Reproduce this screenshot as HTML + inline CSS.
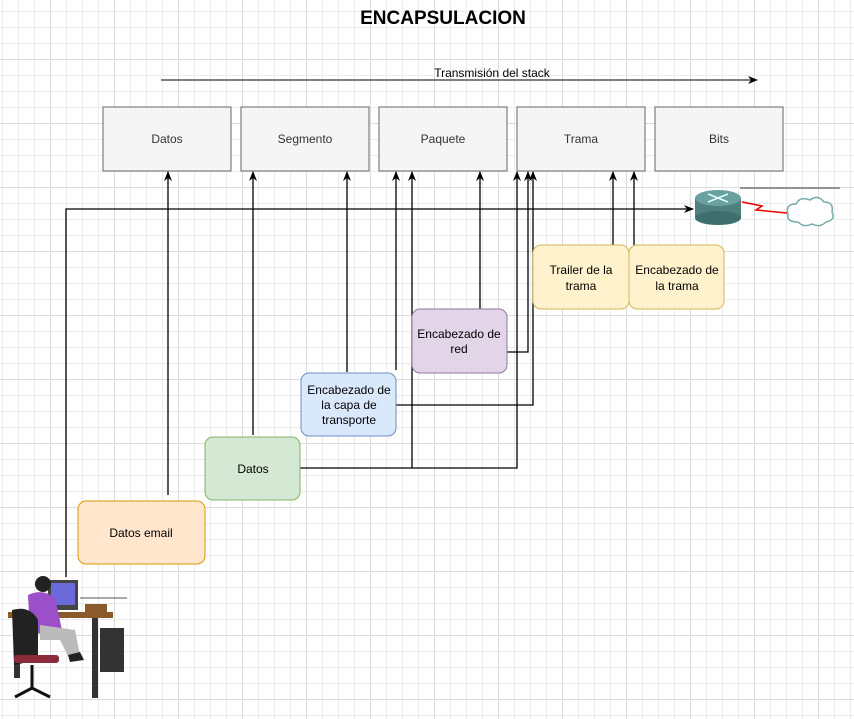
<!DOCTYPE html>
<html><head><meta charset="utf-8"><style>
body{margin:0;width:854px;height:719px;overflow:hidden;background:#fff;
background-image:linear-gradient(#dcdcdc 1px,transparent 1px),linear-gradient(90deg,#dcdcdc 1px,transparent 1px),linear-gradient(#ececec 1px,transparent 1px),linear-gradient(90deg,#ececec 1px,transparent 1px);
background-size:64px 64px,64px 64px,16px 16px,16px 16px;background-position:-14px -5px;font-family:"Liberation Sans",sans-serif;}
</style></head><body>
<svg width="854" height="719" style="position:absolute;left:0;top:0" font-family="Liberation Sans, sans-serif">
<defs><marker id="a" markerWidth="10" markerHeight="10" refX="9" refY="5" orient="auto" markerUnits="userSpaceOnUse"><path d="M0,1 L10,5 L0,9 L3,5z" fill="#000"/></marker></defs>
<text x="443" y="24" text-anchor="middle" font-weight="bold" font-size="19">ENCAPSULACION</text>
<text x="492" y="77" text-anchor="middle" font-size="12">Transmisión del stack</text>
<line x1="161" y1="80" x2="757" y2="80" stroke="#000" marker-end="url(#a)"/>
<g fill="#f5f5f5" stroke="#666">
<rect x="103" y="107" width="128" height="64"/><rect x="241" y="107" width="128" height="64"/><rect x="379" y="107" width="128" height="64"/><rect x="517" y="107" width="128" height="64"/><rect x="655" y="107" width="128" height="64"/></g>
<g font-size="12" text-anchor="middle" fill="#333">
<text x="167" y="143">Datos</text><text x="305" y="143">Segmento</text><text x="443" y="143">Paquete</text><text x="581" y="143">Trama</text><text x="719" y="143">Bits</text></g>
<g stroke="#000" fill="none" stroke-width="1.3">
<path d="M66 577 V209 H693" marker-end="url(#a)"/>
<path d="M168 495 V172" marker-end="url(#a)"/>
<path d="M253 435 V172" marker-end="url(#a)"/>
<path d="M300 468 H412 V172" marker-end="url(#a)"/>
<path d="M412 468 H517 V172" marker-end="url(#a)"/>
<path d="M347 372 V172" marker-end="url(#a)"/>
<path d="M396 370 V172" marker-end="url(#a)"/>
<path d="M396 405 H533 V172" marker-end="url(#a)"/>
<path d="M480 309 V172" marker-end="url(#a)"/>
<path d="M503 352 H528 V172" marker-end="url(#a)"/>
<path d="M613 245 V172" marker-end="url(#a)"/>
<path d="M634 245 V172" marker-end="url(#a)"/>
</g>
<line x1="740" y1="188" x2="840" y2="188" stroke="#777" stroke-width="1.5"/>
<line x1="80" y1="598" x2="127" y2="598" stroke="#555"/>
<rect x="78" y="501" width="127" height="63" rx="8" fill="#ffe6cc" stroke="#d79b00"/>
<rect x="205" y="437" width="95" height="63" rx="8" fill="#d5e8d4" stroke="#82b366"/>
<rect x="301" y="373" width="95" height="63" rx="8" fill="#dae8fc" stroke="#6c8ebf"/>
<rect x="412" y="309" width="95" height="64" rx="8" fill="#e1d5e7" stroke="#9673a6"/>
<rect x="533" y="245" width="96" height="64" rx="8" fill="#fff2cc" stroke="#d6b656"/>
<rect x="629" y="245" width="95" height="64" rx="8" fill="#fff2cc" stroke="#d6b656"/>
<g font-size="12" text-anchor="middle" fill="#000">
<text x="141" y="537">Datos email</text>
<text x="253" y="473">Datos</text>
<text x="349" y="394">Encabezado de</text><text x="349" y="409">la capa de</text><text x="349" y="424">transporte</text>
<text x="459" y="338">Encabezado de</text><text x="459" y="353">red</text>
<text x="581" y="274">Trailer de la</text><text x="581" y="290">trama</text>
<text x="677" y="274">Encabezado de</text><text x="677" y="290">la trama</text>
</g>
<rect x="695" y="198" width="46" height="20" fill="#4f8080"/>
<ellipse cx="718" cy="218" rx="23" ry="7" fill="#3f6e6e"/>
<ellipse cx="718" cy="198" rx="23" ry="8" fill="#6aa0a0"/>
<path d="M708 194 L728 202 M728 194 L708 202" stroke="#dff" stroke-width="1.5"/>
<path d="M742 202 L762 206 L756 210 L787 213" stroke="#e00" stroke-width="1.5" fill="none"/>
<path d="M788 214 q-3 -10 8 -10 q4 -8 14 -4 q8 -6 14 2 q10 0 8 10 q4 8 -6 10 q-6 6 -14 2 q-8 4 -14 -2 q-12 0 -10 -8z" fill="#fff" stroke="#7aa" stroke-width="1.5"/>
<g>
<rect x="48" y="580" width="30" height="30" fill="#444"/><rect x="51" y="583" width="24" height="22" fill="#6a6adb"/>
<rect x="8" y="612" width="105" height="6" fill="#8a5a2a"/>
<rect x="85" y="604" width="22" height="10" fill="#8a5a2a"/>
<rect x="100" y="628" width="24" height="44" fill="#333"/>
<rect x="14" y="618" width="6" height="60" fill="#333"/><rect x="92" y="618" width="6" height="80" fill="#333"/>
<circle cx="43" cy="584" r="8" fill="#222"/>
<path d="M28 595 Q43 588 55 598 L62 630 L30 635z" fill="#9b4fc8"/>
<path d="M40 625 L75 630 L80 655 L70 660 L60 640 L40 640z" fill="#bbb"/>
<path d="M12 610 Q30 605 38 620 L38 660 L14 665z" fill="#222"/>
<rect x="14" y="655" width="45" height="8" rx="3" fill="#8b2a3a"/>
<path d="M32 665 V690 M15 697 L32 688 L50 697" stroke="#111" stroke-width="3" fill="none"/>
<path d="M68 655 L80 652 L84 660 L70 662z" fill="#222"/>
</g>
</svg>
</body></html>
